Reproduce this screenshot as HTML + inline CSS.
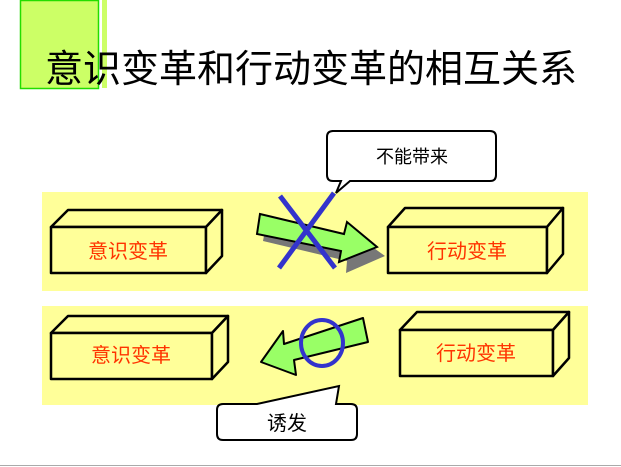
<!DOCTYPE html>
<html><head><meta charset="utf-8"><style>
body{margin:0;width:621px;height:467px;background:#fff;overflow:hidden}
svg{display:block}
text{font-family:"Liberation Sans","Noto Sans CJK SC",sans-serif}
</style></head><body>
<svg width="621" height="467" viewBox="0 0 621 467">
<rect x="20.5" y="0.5" width="78" height="88" fill="#ccff66" stroke="#22dd00" stroke-width="1.5"/>
<rect x="102" y="0" width="5" height="88" fill="#ccff66"/>
<text x="45" y="82" font-size="38" fill="#000" textLength="532" lengthAdjust="spacingAndGlyphs">意识变革和行动变革的相互关系</text>
<rect x="42" y="192" width="546" height="99" fill="#ffff99"/>
<rect x="42" y="306" width="546" height="99" fill="#ffff99"/>
<g stroke="#000" stroke-width="2.5" fill="#ffff99" stroke-linejoin="round">
<path d="M51 227 L68 210 L222 210 L206 227 Z"/><rect x="51" y="227" width="155" height="46"/><path d="M206 227 L222 210 L222 256 L206 273 Z"/>
<path d="M388 227 L405 208 L563 208 L547 227 Z"/><rect x="388" y="227" width="159" height="46"/><path d="M547 227 L563 208 L563 254 L547 273 Z"/>
<path d="M51 333 L68 316 L228 316 L212 333 Z"/><rect x="51" y="333" width="161" height="46"/><path d="M212 333 L228 316 L228 362 L212 379 Z"/>
<path d="M400 330 L417 312 L569 312 L553 330 Z"/><rect x="400" y="330" width="153" height="46"/><path d="M553 330 L569 312 L569 358 L553 376 Z"/>
</g>
<g font-size="20" fill="#ff3300" text-anchor="middle">
<text x="128" y="258">意识变革</text><text x="467" y="258">行动变革</text>
<text x="131" y="362">意识变革</text><text x="476" y="360">行动变革</text>
</g>
<path d="M263 221 L347 241 L350 229 L382 252 L343 269 L344 257 L260 237 Z" fill="#777" transform="translate(3,4)"/>
<path d="M260 214 L344 234 L347 222 L377 247 L339 262 L341 251 L257 234 Z" fill="#99ff66" stroke="#000" stroke-width="2"/>
<g stroke="#3333cc" stroke-width="5"><line x1="280" y1="196" x2="335" y2="268"/><line x1="334" y1="193" x2="279" y2="268"/></g>
<path d="M332 131 H490 Q496 131 496 137 V175 Q496 181 490 181 H350 L336 193 L341 181 H333 Q327 181 327 175 V137 Q327 131 333 131 Z" fill="#fff" stroke="#000" stroke-width="2"/>
<text x="412" y="163" font-size="18" text-anchor="middle">不能带来</text>
<path d="M363 318 L368 342 L294 360 L296 375 L261 362 L283 331 L284 344 Z" fill="#99ff66" stroke="#000" stroke-width="2" stroke-linejoin="round"/>
<ellipse cx="322" cy="343" rx="21" ry="23" fill="none" stroke="#3333cc" stroke-width="4"/>
<path d="M223 404 H257 L339 386 L336 404 H351 Q357 404 357 410 V434 Q357 440 351 440 H223 Q217 440 217 434 V410 Q217 404 223 404 Z" fill="#fff" stroke="#000" stroke-width="2"/>
<text x="287" y="430" font-size="20" text-anchor="middle">诱发</text>
<line x1="0" y1="465.5" x2="621" y2="465.5" stroke="#aaa" stroke-width="1"/>
</svg>
</body></html>
